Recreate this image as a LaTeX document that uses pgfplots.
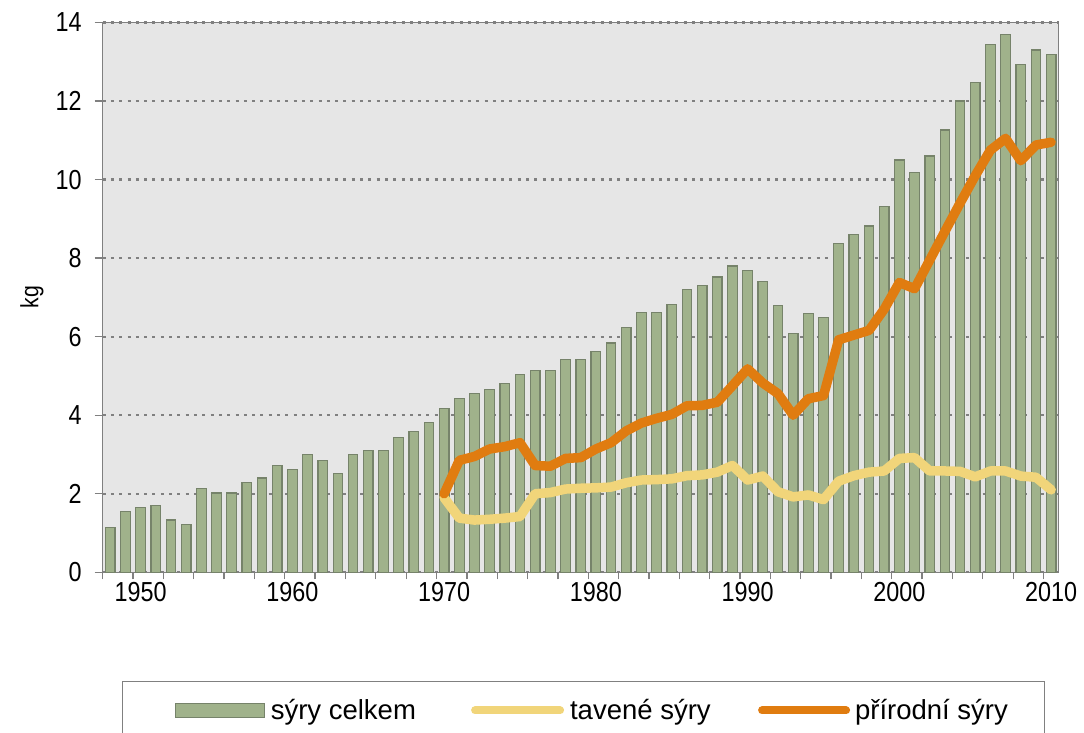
\documentclass[border=0pt]{standalone}
\usepackage{fontspec}
\setmainfont{Liberation Sans}
\newfontfamily\tickfont[FakeStretch=0.85]{Liberation Sans}
\usepackage{pgfplots}
\usepackage{pgfplotstable}
\pgfplotsset{compat=1.18}
\definecolor{bg}{RGB}{230,230,230}
\definecolor{barfill}{RGB}{160,178,139}
\definecolor{baredge}{RGB}{118,131,106}
\definecolor{orangeL}{RGB}{224,124,16}
\definecolor{yellowL}{RGB}{241,213,122}
\definecolor{gridc}{RGB}{128,128,128}
\definecolor{axc}{RGB}{128,128,128}

\pgfplotstableread{
year total
1948 1.15
1949 1.55
1950 1.65
1951 1.70
1952 1.33
1953 1.22
1954 2.13
1955 2.02
1956 2.02
1957 2.29
1958 2.40
1959 2.72
1960 2.62
1961 3.00
1962 2.84
1963 2.51
1964 3.00
1965 3.10
1966 3.10
1967 3.43
1968 3.59
1969 3.81
1970 4.18
1971 4.43
1972 4.55
1973 4.65
1974 4.81
1975 5.03
1976 5.13
1977 5.13
1978 5.41
1979 5.41
1980 5.62
1981 5.84
1982 6.23
1983 6.61
1984 6.61
1985 6.82
1986 7.20
1987 7.31
1988 7.52
1989 7.80
1990 7.68
1991 7.40
1992 6.80
1993 6.09
1994 6.60
1995 6.48
1996 8.38
1997 8.60
1998 8.82
1999 9.31
2000 10.50
2001 10.18
2002 10.60
2003 11.26
2004 12.00
2005 12.48
2006 13.43
2007 13.69
2008 12.93
2009 13.30
2010 13.19
}\totaltable

\pgfplotstableread{
year tav pri
1970 1.90 2.00
1971 1.38 2.85
1972 1.33 2.95
1973 1.35 3.14
1974 1.38 3.20
1975 1.42 3.30
1976 2.00 2.72
1977 2.03 2.70
1978 2.12 2.90
1979 2.14 2.92
1980 2.15 3.14
1981 2.17 3.30
1982 2.28 3.60
1983 2.35 3.80
1984 2.36 3.92
1985 2.38 4.02
1986 2.46 4.24
1987 2.48 4.25
1988 2.55 4.33
1989 2.72 4.75
1990 2.35 5.18
1991 2.45 4.82
1992 2.05 4.55
1993 1.92 4.00
1994 1.97 4.42
1995 1.85 4.50
1996 2.32 5.92
1997 2.46 6.04
1998 2.55 6.16
1999 2.58 6.70
2000 2.90 7.38
2001 2.92 7.22
2002 2.58 7.95
2003 2.58 8.68
2004 2.57 9.40
2005 2.43 10.10
2006 2.58 10.75
2007 2.58 11.05
2008 2.45 10.48
2009 2.42 10.88
2010 2.10 10.95
}\linetable

\begin{document}
\begin{tikzpicture}
\useasboundingbox (-102.7pt,-160.7pt) rectangle (981.3pt,572.3pt);
\clip (-102.7pt,-160.7pt) rectangle (981.3pt,572.3pt);
\begin{axis}[
  at={(0,0)}, anchor=south west,
  scale only axis,
  width=956pt, height=549.8pt,
  xmin=1947.5, xmax=2010.5,
  ymin=0, ymax=14,
  axis background/.style={fill=bg},
  axis line style={draw=axc, line width=1.3pt},
  xtick={1950,1960,1970,1980,1990,2000,2010},
  minor xtick={1947.5,1949.5,...,2009.5},
  ytick={0,2,...,14},
  xtick pos=bottom, ytick pos=left,
  tick align=outside,
  major tick length=8pt,
  minor tick length=7pt,
  major x tick style={draw=none},
  minor x tick style={draw=axc, line width=1.3pt},
  major y tick style={draw=axc, line width=1.3pt},
  ymajorgrids,
  grid style={draw=gridc, line width=2.2pt, dash pattern=on 3pt off 5.3pt},
  /pgf/number format/assume math mode=true,
  xticklabel={\pgfmathprintnumber[1000 sep={}]{\tick}},
  xticklabel style={font=\tickfont\fontsize{27.5}{27.5}\selectfont, anchor=north, inner sep=0pt, yshift=-2pt},
  yticklabel style={font=\tickfont\fontsize{27.5}{27.5}\selectfont, anchor=east, inner sep=0pt, xshift=-13pt},
  ylabel={kg},
  ylabel style={font=\tickfont\fontsize{25}{25}\selectfont, at={(axis description cs:-0.074,0.5)}, anchor=center},
  legend columns=3,
  legend style={
    at={(0.02019,-0.1977)}, anchor=north west,
    draw=gray, line width=1.2pt, fill=white,
    inner xsep=0pt, inner ysep=18pt,
    /tikz/column sep=0pt,
    nodes={inner sep=0pt},
    font=\fontsize{27.5}{27.5}\selectfont,
  },
]
\addplot[ybar, bar width=9.6pt, fill=barfill, draw=baredge, line width=1.2pt,
  legend image code/.code={\path[draw=none,fill=none] (-52.7pt,0pt) -- (95.5pt,0pt);
    \draw[fill=barfill, draw=baredge, line width=1.2pt] (0pt,-7pt) rectangle (89pt,7pt);}]
  table[x=year, y=total] {\totaltable};
\addlegendentry{\makebox[200.3pt][l]{sýry celkem}}
\addplot[draw=yellowL, line width=9.5pt, line join=round, line cap=round,
  legend image code/.code={\path[draw=none,fill=none] (0pt,0pt) -- (99pt,0pt);
    \draw[draw=yellowL, line width=8pt, line cap=round] (4pt,0pt) -- (89pt,0pt);}]
  table[x=year, y=tav] {\linetable};
\addlegendentry{\makebox[188pt][l]{tavené sýry}}
\addplot[draw=orangeL, line width=9.5pt, line join=round, line cap=round,
  legend image code/.code={\path[draw=none,fill=none] (0pt,0pt) -- (97pt,0pt);
    \draw[draw=orangeL, line width=8pt, line cap=round] (4pt,0pt) -- (88pt,0pt);}]
  table[x=year, y=pri] {\linetable};
\addlegendentry{\makebox[189pt][l]{přírodní sýry}}
\end{axis}
\end{tikzpicture}
\end{document}
